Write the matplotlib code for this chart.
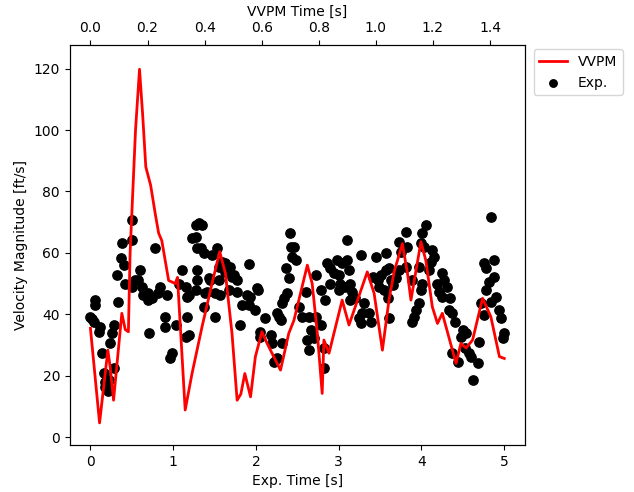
import matplotlib
matplotlib.use("Agg")
import matplotlib.pyplot as plt
import numpy as np

# VVPM simulation (top axis time)
vvpm_t = [0.000, 0.032, 0.061, 0.069, 0.081, 0.110, 0.122, 0.133, 0.139, 0.158,
          0.172, 0.183, 0.194, 0.211, 0.227, 0.239, 0.250, 0.274, 0.297, 0.305,
          0.332, 0.356, 0.391, 0.426, 0.453, 0.473, 0.496, 0.514, 0.527, 0.541,
          0.561, 0.578, 0.601, 0.619, 0.666, 0.695, 0.713, 0.760, 0.777, 0.795,
          0.812, 0.818, 0.836, 0.882, 0.906, 0.970, 0.994, 1.023, 1.046, 1.064,
          1.093, 1.111, 1.123, 1.158, 1.175, 1.198, 1.216, 1.233, 1.281, 1.298,
          1.316, 1.339, 1.374, 1.403, 1.433, 1.450]
vvpm_v = [35.4, 4.6, 28.3, 22.9, 12.0, 40.3, 35.0, 34.3, 60.0, 100.0,
          119.8, 105.0, 88.0, 82.0, 72.8, 66.4, 64.0, 51.0, 50.0, 52.0,
          8.8, 20.7, 35.9, 50.0, 60.4, 53.3, 33.8, 12.0, 14.0, 20.7,
          13.1, 26.2, 34.3, 30.5, 21.8, 33.8, 38.0, 56.0, 50.0, 33.8,
          14.2, 31.6, 27.3, 44.6, 36.5, 53.8, 46.8, 28.3, 44.6, 53.8,
          63.0, 53.3, 44.6, 63.6, 57.6, 42.4, 37.0, 40.3, 24.0, 30.5,
          29.0, 31.6, 45.2, 39.2, 26.2, 25.6]

# experiment (bottom axis time)
exp_t = [0.00, 0.02, 0.04, 0.05, 0.06, 0.10, 0.12, 0.14, 0.16, 0.18, 0.18, 0.21, 0.22, 0.22,
         0.24, 0.26, 0.28, 0.29, 0.32, 0.33, 0.37, 0.38, 0.40, 0.42, 0.50, 0.50, 0.50, 0.54,
         0.58, 0.60, 0.62, 0.64, 0.70, 0.70, 0.71, 0.74, 0.78, 0.82, 0.84, 0.90, 0.90, 0.92,
         0.96, 0.98, 1.03, 1.07, 1.11, 1.15, 1.15, 1.17, 1.17, 1.19, 1.19, 1.23, 1.27, 1.27,
         1.27, 1.29, 1.29, 1.29, 1.31, 1.33, 1.35, 1.37, 1.37, 1.39, 1.41, 1.43, 1.45, 1.47,
         1.51, 1.51, 1.53, 1.55, 1.55, 1.57, 1.59, 1.63, 1.63, 1.67, 1.69, 1.71, 1.73, 1.77,
         1.77, 1.81, 1.83, 1.89, 1.91, 1.91, 1.93, 1.99, 2.01, 2.03, 2.05, 2.05, 2.11, 2.18,
         2.19, 2.22, 2.26, 2.26, 2.28, 2.30, 2.32, 2.32, 2.34, 2.36, 2.38, 2.40, 2.41, 2.42,
         2.44, 2.46, 2.48, 2.52, 2.56, 2.60, 2.62, 2.64, 2.64, 2.66, 2.70, 2.72, 2.72, 2.78,
         2.78, 2.82, 2.82, 2.84, 2.86, 2.90, 2.90, 2.94, 2.98, 3.00, 3.00, 3.02, 3.04, 3.08,
         3.10, 3.10, 3.12, 3.14, 3.14, 3.16, 3.20, 3.24, 3.27, 3.27, 3.28, 3.31, 3.37, 3.39,
         3.41, 3.45, 3.47, 3.49, 3.51, 3.55, 3.57, 3.57, 3.59, 3.61, 3.61, 3.63, 3.65, 3.69,
         3.73, 3.73, 3.75, 3.81, 3.81, 3.83, 3.89, 3.89, 3.91, 3.93, 3.97, 3.97, 3.99, 3.99,
         4.01, 4.01, 4.03, 4.05, 4.09, 4.11, 4.13, 4.15, 4.19, 4.21, 4.25, 4.25, 4.27, 4.31,
         4.33, 4.35, 4.37, 4.37, 4.40, 4.44, 4.48, 4.50, 4.52, 4.54, 4.58, 4.60, 4.62, 4.68,
         4.70, 4.72, 4.76, 4.76, 4.78, 4.78, 4.82, 4.84, 4.84, 4.88, 4.88, 4.90, 4.94, 4.96,
         4.98, 5.00]
exp_v = [39.2, 38.5, 37.6, 44.6, 43.0, 34.3, 35.9, 27.3, 21.0, 18.0, 16.4, 15.0, 15.3, 18.6,
         30.7, 33.8, 22.4, 36.5, 52.8, 43.9, 58.2, 63.3, 56.0, 50.0, 70.7, 64.2, 49.0, 51.1,
         51.1, 54.4, 49.0, 46.3, 46.8, 44.6, 34.0, 45.2, 61.5, 46.8, 49.0, 39.2, 35.9, 46.3,
         25.6, 27.5, 36.5, 50.0, 54.4, 49.0, 32.7, 39.2, 45.7, 33.2, 46.3, 64.7, 69.0, 65.2,
         47.9, 61.5, 51.1, 54.4, 69.6, 61.5, 69.0, 59.8, 42.4, 46.8, 47.3, 51.7, 51.1, 59.3,
         39.2, 46.8, 61.5, 51.1, 55.5, 46.3, 57.1, 53.8, 56.6, 47.9, 55.5, 52.2, 52.8, 51.1,
         47.3, 36.5, 43.0, 46.3, 56.4, 43.0, 45.7, 41.4, 48.4, 47.9, 34.3, 32.7, 38.7, 33.2,
         30.5, 24.5, 25.6, 40.3, 39.2, 38.1, 30.5, 43.5, 45.2, 55.0, 46.8, 51.7, 66.4, 62.0,
         58.7, 62.0, 57.7, 42.4, 39.2, 47.3, 31.6, 28.3, 39.2, 34.9, 32.1, 52.8, 39.2, 47.9,
         36.5, 28.9, 22.4, 44.6, 56.6, 55.0, 50.0, 53.3, 57.7, 52.8, 47.9, 50.0, 56.6, 49.0,
         57.7, 64.2, 54.4, 50.0, 44.6, 47.3, 45.2, 38.7, 59.3, 37.0, 40.3, 43.5, 40.3, 37.6,
         52.2, 58.7, 51.1, 49.0, 52.8, 47.9, 59.8, 54.4, 45.2, 55.0, 38.7, 51.1, 49.5, 51.7,
         54.4, 63.6, 60.4, 66.9, 55.5, 62.0, 51.1, 37.6, 39.2, 41.4, 55.5, 43.5, 47.9, 63.1,
         66.4, 50.0, 62.0, 69.0, 54.4, 57.1, 60.9, 58.7, 50.0, 47.3, 53.3, 45.7, 51.1, 49.0,
         41.4, 45.2, 40.3, 27.3, 37.6, 24.5, 32.7, 34.9, 28.9, 33.8, 27.3, 26.2, 18.6, 24.0,
         31.0, 43.5, 56.6, 39.7, 55.0, 47.9, 50.6, 71.8, 44.1, 57.7, 52.2, 45.7, 41.4, 38.7,
         32.1, 33.8]

fig = plt.figure(figsize=(6.34, 4.92), dpi=100)
ax = fig.add_axes([0.110, 0.0955, 0.718, 0.813])
sc = ax.scatter(exp_t, exp_v, s=45, color='black', label='Exp.')
ax.set_xlabel('Exp. Time [s]')
ax.set_ylabel('Velocity Magnitude [ft/s]')

ax2 = ax.twiny()
ln, = ax2.plot(vvpm_t, vvpm_v, color='red', lw=2, label='VVPM')
ax2.set_xlabel('VVPM Time [s]')
ax.set_ylim(-2.6, 127.7)

ax2.legend([ln, sc], ['VVPM', 'Exp.'], loc='upper left',
           bbox_to_anchor=(1.01, 1.0), borderaxespad=0.3, markerscale=0.8)

fig.savefig('out.png', dpi=100)
